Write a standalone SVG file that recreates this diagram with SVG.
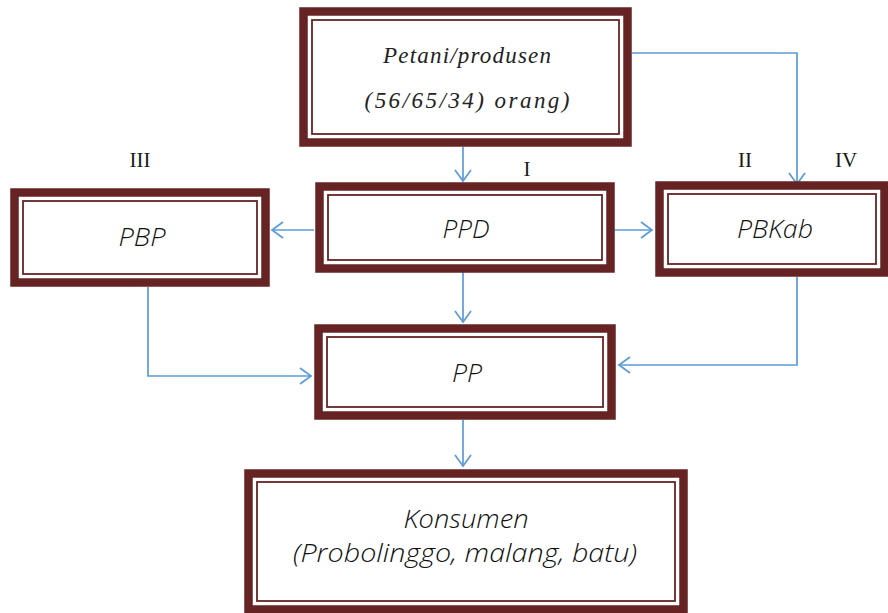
<svg xmlns="http://www.w3.org/2000/svg" width="888" height="613" viewBox="0 0 888 613">
<defs>
<style>
.ob{fill:#fff;stroke:#652423;stroke-width:8.5}
.ib{fill:none;stroke:#652423;stroke-width:1.8}
.c{fill:none;stroke:#5b9bd5;stroke-width:1.7}
.t{font-family:"Open Sans","Noto Sans",sans-serif;font-style:italic;font-weight:300;font-size:26px;fill:#111;text-anchor:middle}
.k{font-size:25px}
.s{font-family:"Liberation Serif",serif;font-style:italic;font-size:23px;fill:#222;text-anchor:middle}
.r{font-family:"Liberation Serif",serif;font-size:21px;fill:#1a1a1a;text-anchor:middle}
</style>
<marker id="a" markerUnits="userSpaceOnUse" markerWidth="14" markerHeight="20" refX="12" refY="10" orient="auto">
<path d="M1,2 L12,10 L1,18" fill="none" stroke="#5b9bd5" stroke-width="1.7"/>
</marker>
</defs>
<rect width="888" height="613" fill="#fff"/>
<g id="connectors">
<line class="c" x1="463" y1="147" x2="463" y2="181" marker-end="url(#a)"/>
<polyline class="c" points="632,53 797,53 797,184" marker-end="url(#a)"/>
<line class="c" x1="314" y1="230" x2="272" y2="230" marker-end="url(#a)"/>
<line class="c" x1="615" y1="230" x2="652" y2="230" marker-end="url(#a)"/>
<line class="c" x1="463" y1="272" x2="463" y2="322" marker-end="url(#a)"/>
<polyline class="c" points="148,287 148,376 311,376" marker-end="url(#a)"/>
<polyline class="c" points="797,277 797,365 619,365" marker-end="url(#a)"/>
<line class="c" x1="463" y1="420" x2="463" y2="466" marker-end="url(#a)"/>
</g>
<g id="petani">
<rect class="ob" x="303.5" y="11.5" width="324" height="131"/>
<rect class="ib" x="312" y="20" width="307" height="114"/>
<text class="s" x="467" y="63" textLength="168" lengthAdjust="spacing">Petani/produsen</text>
<text class="s" x="467" y="108" textLength="205" lengthAdjust="spacing">(56/65/34) orang)</text>
</g>
<g id="pbp">
<rect class="ob" x="14.5" y="192.5" width="251" height="90"/>
<rect class="ib" x="23" y="201" width="234" height="73"/>
<text class="t" x="142" y="246" textLength="47" lengthAdjust="spacingAndGlyphs">PBP</text>
</g>
<g id="ppd">
<rect class="ob" x="319.5" y="186.5" width="291" height="82"/>
<rect class="ib" x="328" y="195" width="274" height="65"/>
<text class="t" x="466" y="238" textLength="47" lengthAdjust="spacingAndGlyphs">PPD</text>
</g>
<g id="pbkab">
<rect class="ob" x="659.5" y="185.5" width="225" height="87"/>
<rect class="ib" x="668" y="194" width="208" height="70"/>
<text class="t" x="775" y="238" textLength="76" lengthAdjust="spacingAndGlyphs">PBKab</text>
</g>
<g id="pp">
<rect class="ob" x="318.5" y="328.5" width="293" height="87"/>
<rect class="ib" x="327" y="337" width="276" height="70"/>
<text class="t" x="467" y="382" textLength="30" lengthAdjust="spacingAndGlyphs">PP</text>
</g>
<g id="konsumen">
<rect class="ob" x="248.5" y="473.5" width="435" height="136"/>
<rect class="ib" x="257" y="482" width="418" height="119"/>
<text class="t k" x="466" y="528" textLength="125" lengthAdjust="spacingAndGlyphs">Konsumen</text>
<text class="t k" x="465" y="562" textLength="344" lengthAdjust="spacingAndGlyphs">(Probolinggo, malang, batu)</text>
</g>
<g id="labels">
<text class="r" x="140" y="167">III</text>
<text class="r" x="527" y="176">I</text>
<text class="r" x="745" y="167">II</text>
<text class="r" x="846" y="167">IV</text>
</g>
</svg>
